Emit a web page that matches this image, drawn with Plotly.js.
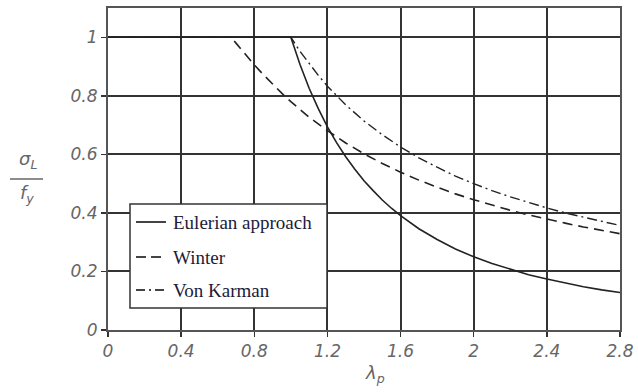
<!DOCTYPE html>
<html>
<head>
<meta charset="utf-8">
<script src="https://cdn.plot.ly/plotly-3.0.1.min.js"></script>
<style>html,body{margin:0;padding:0;background:#fff;}#chart{width:638px;height:392px;}</style>
</head>
<body>
<div id="chart"></div>
<script>
// Eulerian approach
const eulerX = [0, 1.0, 1.05, 1.1, 1.15, 1.2, 1.25, 1.3, 1.35, 1.4, 1.45, 1.5, 1.55, 1.6, 1.7, 1.8, 1.9, 2.0, 2.1, 2.2, 2.3, 2.4, 2.5, 2.6, 2.7, 2.8];
const eulerY = [1, 1, 0.907, 0.826, 0.756, 0.694, 0.640, 0.592, 0.549, 0.510, 0.476, 0.444, 0.416, 0.391, 0.346, 0.309, 0.277, 0.250, 0.227, 0.207, 0.189, 0.174, 0.160, 0.148, 0.137, 0.128];
// Winter
const winterX = [0, 0.673, 0.7, 0.75, 0.8, 0.85, 0.9, 0.95, 1.0, 1.05, 1.1, 1.2, 1.3, 1.4, 1.5, 1.6, 1.7, 1.8, 1.9, 2.0, 2.1, 2.2, 2.3, 2.4, 2.5, 2.6, 2.7, 2.8];
const winterY = [1, 1, 0.980, 0.942, 0.906, 0.872, 0.840, 0.809, 0.780, 0.753, 0.727, 0.681, 0.639, 0.602, 0.569, 0.539, 0.512, 0.488, 0.465, 0.445, 0.426, 0.409, 0.393, 0.378, 0.365, 0.352, 0.340, 0.329];
// Von Karman
const karmanX = [0, 1.0, 1.05, 1.1, 1.15, 1.2, 1.25, 1.3, 1.4, 1.5, 1.6, 1.7, 1.8, 1.9, 2.0, 2.1, 2.2, 2.3, 2.4, 2.5, 2.6, 2.7, 2.8];
const karmanY = [1, 1, 0.952, 0.909, 0.870, 0.833, 0.800, 0.769, 0.714, 0.667, 0.625, 0.588, 0.556, 0.526, 0.500, 0.476, 0.455, 0.435, 0.417, 0.400, 0.385, 0.370, 0.357];

const seriesNames = ["Eulerian approach", "Winter", "Von Karman"];
const xTicks = [0, 0.4, 0.8, 1.2, 1.6, 2, 2.4, 2.8];
const xTickText = ["0", "0.4", "0.8", "1.2", "1.6", "2", "2.4", "2.8"];
const yTicks = [0, 0.2, 0.4, 0.6, 0.8, 1];
const yTickText = ["0", "0.2", "0.4", "0.6", "0.8", "1"];

const lineCol = "#222";
const dashes = ["solid", "10px,6px", "10px,4px,2px,4px"];

const traces = [
  {x: eulerX, y: eulerY, name: seriesNames[0], mode: "lines", line: {color: lineCol, width: 1.6, dash: dashes[0]}},
  {x: winterX, y: winterY, name: seriesNames[1], mode: "lines", line: {color: lineCol, width: 1.6, dash: dashes[1]}},
  {x: karmanX, y: karmanY, name: seriesNames[2], mode: "lines", line: {color: lineCol, width: 1.4, dash: dashes[2]}}
];

const tickFont = {family: "DejaVu Sans, sans-serif", size: 17, color: "#666", style: "italic"};
const legFont = {family: "Liberation Serif, Times New Roman, serif", size: 19, color: "#1b1b3a"};
const titleFont = {family: "DejaVu Sans, sans-serif", size: 18, color: "#666", style: "italic"};

// pixel -> paper helpers (plot area: left 108, right 620, top 8, bottom 330)
const px = v => (v - 108) / 512;
const py = v => (330 - v) / 322;

const legRows = [222, 257, 290];
const shapes = [
  {type: "rect", xref: "paper", yref: "paper", x0: px(130), x1: px(327), y0: py(308), y1: py(204),
   fillcolor: "#fff", line: {color: "#333", width: 1.5}, layer: "above"},
  {type: "line", xref: "paper", yref: "paper", x0: px(10), x1: px(43), y0: py(179), y1: py(179),
   line: {color: "#666", width: 1.5}}
];
const annotations = [];
seriesNames.forEach((n, i) => {
  shapes.push({type: "line", xref: "paper", yref: "paper", x0: px(136), x1: px(166), y0: py(legRows[i]), y1: py(legRows[i]),
    line: {color: "#444", width: 2, dash: i === 0 ? "solid" : (i === 1 ? "10px,5px" : "9px,4px,2px,4px")}, layer: "above"});
  annotations.push({xref: "paper", yref: "paper", x: px(171), y: py(legRows[i]), xanchor: "left", yanchor: "middle",
    text: n, showarrow: false, font: legFont});
});
annotations.push(
  {xref: "paper", yref: "paper", x: px(28), y: py(160), xanchor: "center", yanchor: "middle",
   text: "σ<sub>L</sub>", showarrow: false, font: titleFont},
  {xref: "paper", yref: "paper", x: px(27), y: py(194), xanchor: "center", yanchor: "middle",
   text: "f<sub>y</sub>", showarrow: false, font: titleFont},
  {xref: "paper", yref: "paper", x: px(375), y: py(374), xanchor: "center", yanchor: "middle",
   text: "λ<sub>p</sub>", showarrow: false, font: titleFont}
);

const layout = {
  width: 638, height: 392,
  margin: {l: 108, r: 18, t: 8, b: 62},
  paper_bgcolor: "#fff", plot_bgcolor: "#fff",
  showlegend: false,
  xaxis: {range: [0, 2.8], tickvals: xTicks, ticktext: xTickText, tickfont: tickFont,
    showgrid: true, gridcolor: "#333", gridwidth: 2, zeroline: false,
    showline: true, linecolor: "#555", linewidth: 2, mirror: true,
    ticks: "outside", ticklen: 5, tickwidth: 1.5, tickcolor: "#333", fixedrange: true},
  yaxis: {range: [0, 1.1], tickvals: yTicks, ticktext: yTickText, tickfont: tickFont,
    showgrid: true, gridcolor: "#333", gridwidth: 2, zeroline: false,
    showline: true, linecolor: "#555", linewidth: 2, mirror: true,
    ticks: "outside", ticklen: 5, tickwidth: 1.5, tickcolor: "#333", fixedrange: true},
  shapes: shapes,
  annotations: annotations
};

Plotly.newPlot("chart", traces, layout, {displayModeBar: false, staticPlot: true});
</script>
</body>
</html>
